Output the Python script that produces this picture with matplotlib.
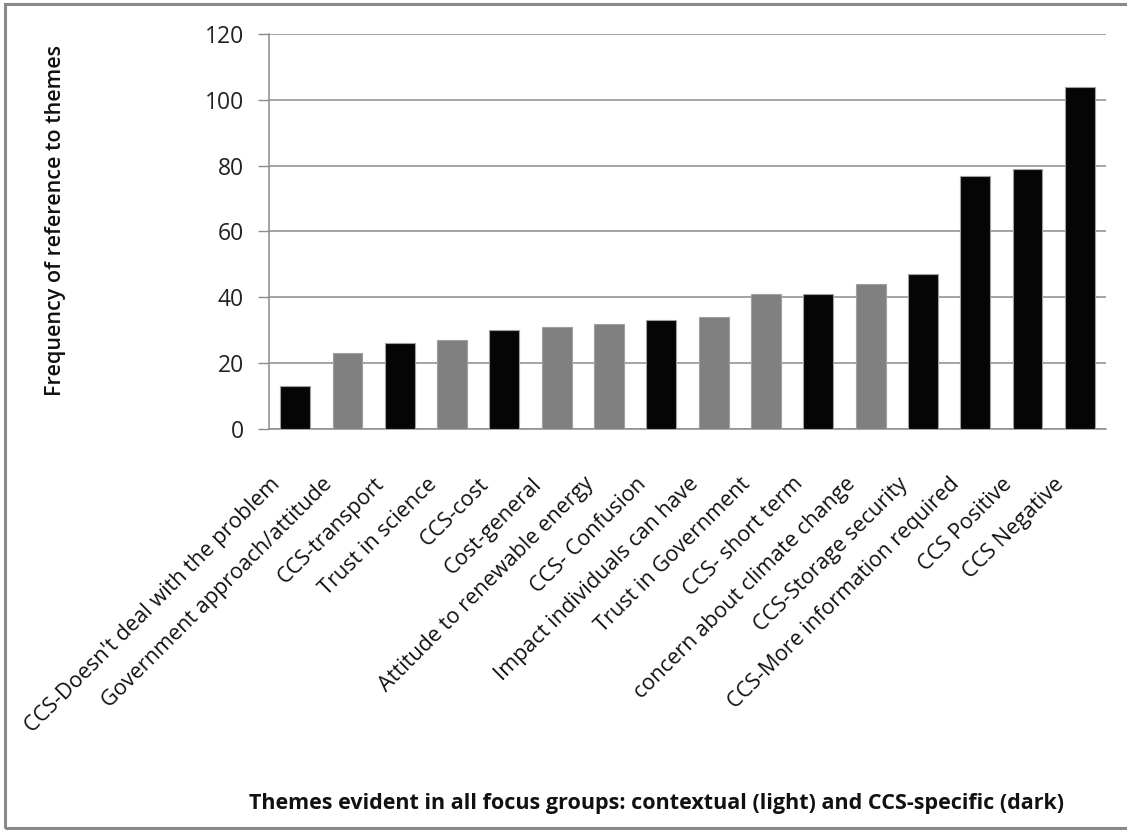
import matplotlib
matplotlib.use("Agg")
import matplotlib.pyplot as plt
from matplotlib.patches import Rectangle
from matplotlib.transforms import ScaledTranslation

plt.rcParams['font.family'] = ['Open Sans', 'DejaVu Sans']

# themes, sorted by frequency
themes = ["CCS-Doesn't deal with the problem", "Government approach/attitude",
          "CCS-transport", "Trust in science", "CCS-cost", "Cost-general",
          "Attitude to renewable energy", "CCS- Confusion",
          "Impact individuals can have", "Trust in Government",
          "CCS- short term", "concern about climate change",
          "CCS-Storage security", "CCS-More information required",
          "CCS Positive", "CCS Negative"]
freq = [13, 23, 26, 27, 30, 31, 32, 33, 34, 41, 41, 44, 47, 77, 79, 104]
# 'ccs' = CCS-specific (dark), 'ctx' = contextual (light)
kind = ['ccs', 'ctx', 'ccs', 'ctx', 'ccs', 'ctx', 'ctx', 'ccs',
        'ctx', 'ctx', 'ccs', 'ctx', 'ccs', 'ccs', 'ccs', 'ccs']

col = {'ccs': '#050505', 'ctx': '#808080'}

fig = plt.figure(figsize=(11.27, 8.30), dpi=100)
ax = fig.add_axes([269/1127, 1 - 429/830, (1106 - 269)/1127, (429 - 34)/830])

x = range(len(themes))
ax.bar(x, freq, width=0.57, color=[col[k] for k in kind],
       edgecolor='#a0a0a0', linewidth=0.8, zorder=3)

ax.set_xlim(-0.5, len(themes) - 0.5)
ax.set_ylim(0, 120)
ax.set_yticks(range(0, 121, 20))
ax.yaxis.grid(True, color='#8c8c8c', linewidth=1.1, zorder=0)
ax.tick_params(axis='y', length=8, width=1, color='#8c8c8c', labelsize=16.5,
               labelcolor='#222222', pad=10)
ax.tick_params(axis='x', length=0, pad=14)
ax.set_xticks(list(x))
ax.set_xticklabels(themes, rotation=45, ha='right', rotation_mode='anchor',
                   fontsize=15.6, color='#111111')
# nudge the slanted labels down-left, like the original
shift = ScaledTranslation(-0.26, -0.25, fig.dpi_scale_trans)
for lab in ax.get_xticklabels():
    lab.set_transform(lab.get_transform() + shift)
for s in ['top', 'right']:
    ax.spines[s].set_visible(False)
ax.spines['left'].set_color('#8c8c8c')
ax.spines['bottom'].set_color('#8c8c8c')
ax.spines['left'].set_linewidth(1.1)
ax.spines['bottom'].set_linewidth(1.1)

fig.text(56/1127, 1 - 221/830, 'Frequency of reference to themes', rotation=90,
         ha='center', va='center', fontsize=15.5, fontweight='semibold', color='#111111')
fig.text(1064/1127, 1 - 803/830,
         'Themes evident in all focus groups: contextual (light) and CCS-specific (dark)',
         ha='right', va='center', fontsize=15.5, fontweight='bold', color='#111111')

# outer frame
fig.patches.append(Rectangle((5/1127, 2/830), 1.1, 824/830, transform=fig.transFigure,
                             fill=False, edgecolor='#8a8a8a', linewidth=2.2))

fig.savefig('out.png', dpi=100, facecolor='white')
